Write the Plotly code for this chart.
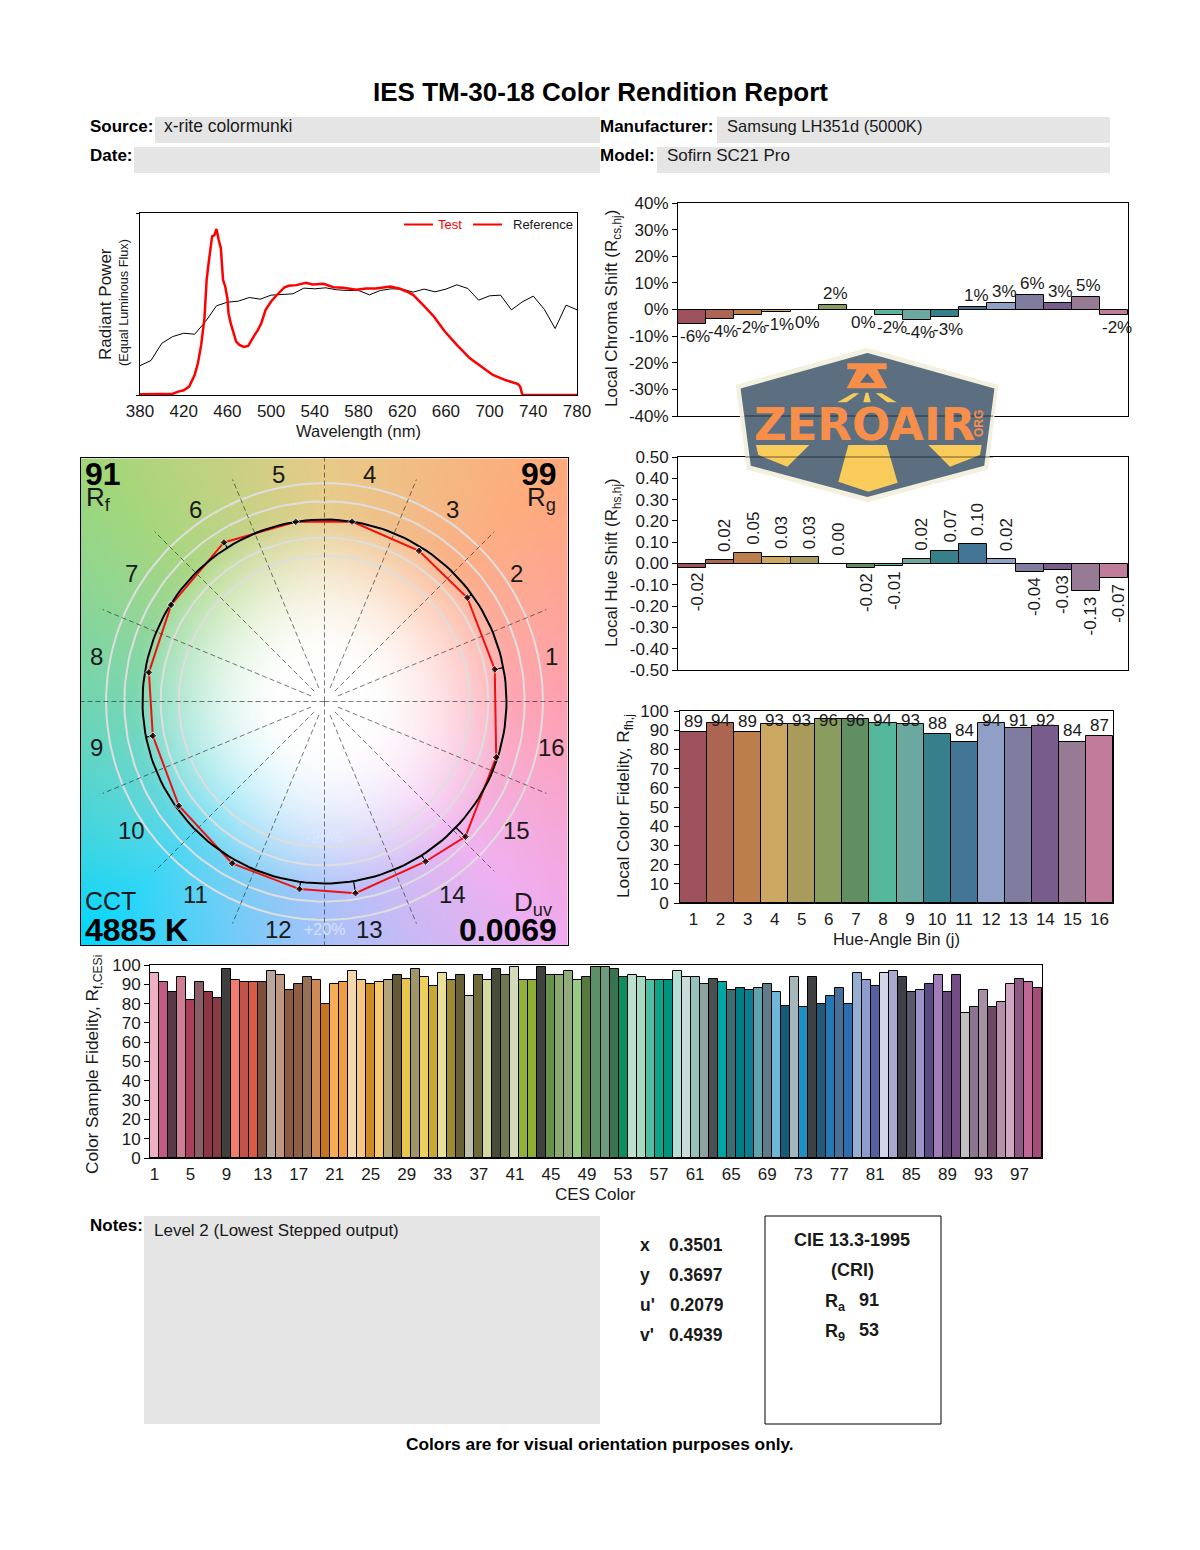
import numpy as np
import plotly.graph_objects as go

W, H = 1200, 1550
FONT = "Liberation Sans"
INK = "#1a1a1a"

# spectrum (height on the plot, 0-545 scale)
ref_wl = list(range(380, 781, 10))
ref_power = [88, 103, 155, 175, 185, 182, 220, 267, 278, 281, 292, 287, 299, 301, 303, 320, 318, 321, 315, 313, 313,
             300, 313, 318, 317, 308, 317, 309, 317, 330, 319, 284, 297, 299, 255, 279, 296, 257, 199, 269, 255]
test_wl = [380, 405, 410, 415, 420, 425, 430, 433, 436, 439, 441, 443, 446, 448, 450, 452, 454, 456, 458, 460, 461,
           463, 465, 468, 471, 475, 479, 482, 485, 488, 491, 495, 500, 504, 508, 512, 516, 523, 532, 538, 548, 557,
           566, 578, 587, 596, 609, 618, 624, 630, 639, 649, 659, 670, 682, 692, 703, 715, 726, 728, 730, 780]
test_power = [2, 2, 4, 10, 14, 25, 60, 95, 150, 230, 345, 400, 475, 478, 497, 465, 440, 345, 325, 290, 245,
              215, 190, 160, 150, 144, 147, 165, 180, 195, 215, 255, 280, 295, 310, 322, 327, 329, 336, 331, 333, 323,
              321, 315, 319, 319, 325, 318, 310, 300, 270, 235, 190, 150, 110, 85, 60, 44, 33, 25, 0, 0]

# bins
bins = list(range(1, 17))
bin_colors = ["#9D525B", "#AD6553", "#BC7E4B", "#CCA863", "#A99B5C", "#8A9C5E", "#618E63", "#55B79B",
              "#6BA89F", "#35808A", "#427596", "#8F9FC6", "#807C9F", "#785C8C", "#977A94", "#C27C9B"]
chroma_shift = [-5.6, -3.75, -2.0, -0.9, 0, 1.7, 0, -2.0, -3.8, -2.7, 0.8, 2.5, 5.5, 2.5, 4.8, -2.0]
chroma_text = ["-6%", "-4%", "-2%", "-1%", "0%", "2%", "0%", "-2%", "-4%", "-3%", "1%", "3%", "6%", "3%", "5%", "-2%"]
hue_shift = [-0.02, 0.015, 0.05, 0.03, 0.03, 0.0, -0.02, -0.01, 0.02, 0.06, 0.09, 0.02, -0.04, -0.03, -0.13, -0.07]
hue_text = ["-0.02", "0.02", "0.05", "0.03", "0.03", "0.00", "-0.02", "-0.01", "0.02", "0.07", "0.10", "0.02",
            "-0.04", "-0.03", "-0.13", "-0.07"]
bin_fidelity = [89, 94, 89, 93, 93, 96, 96, 94, 93, 88, 84, 94, 91, 92, 84, 87]

# color samples
ces_values = [96, 91, 86, 94, 82, 91, 86, 83, 98, 92, 91, 91, 91, 97, 95, 87, 90, 94, 92, 80, 90, 91, 97, 92, 90,
              91, 92, 95, 93, 98, 94, 89, 96, 92, 95, 84, 95, 92, 98, 95, 99, 92, 92, 99, 95, 95, 97, 92, 94, 99,
              99, 98, 94, 95, 94, 92, 92, 92, 97, 94, 94, 90, 93, 91, 87, 88, 87, 88, 90, 86, 79, 94, 78, 94, 80,
              84, 88, 80, 96, 92, 89, 96, 97, 94, 86, 87, 90, 95, 86, 95, 75, 78, 87, 78, 81, 90, 93, 91, 88]
ces_colors = ["#EEB0C5", "#C25B83", "#573A45", "#CF7D95", "#A93F5D", "#8B5D66", "#8D3645", "#883B44", "#3F3F3F",
              "#F47C6C", "#C25347", "#D85C45", "#7E4E3A", "#B9A79C", "#C09882", "#8E5A3F", "#8E5F43", "#977156",
              "#CF8A53", "#C6761F", "#F7AD58", "#F09C43", "#F3D8AE", "#F8C67E", "#CF8B24", "#F9C96A", "#B3A579",
              "#665A36", "#E8C64E", "#A09568", "#EDD05D", "#C9A934", "#E8DF9A", "#9B8A32", "#675F36", "#C0BFA7",
              "#706B36", "#D3DA9C", "#484C39", "#70794F", "#D5DAB9", "#93B039", "#8FAD32", "#3E413C", "#66934C",
              "#89AB6E", "#91AB7E", "#97CC85", "#55793F", "#5E9068", "#6E9A7D", "#387450", "#0A9060", "#BCDFD0",
              "#A8DAC2", "#52BFA4", "#0EA587", "#009480", "#B4DFD4", "#CADCD8", "#95C3BC", "#8CA3A0", "#4A4F50",
              "#00A5A5", "#3A6E72", "#007D84", "#0A7E90", "#5FA3AE", "#5F7C88", "#6FB7D8", "#145C78", "#A4B7BD",
              "#2090C4", "#3E4042", "#205A7C", "#2478B4", "#44709A", "#2A6EB0", "#94AFD2", "#8C9CCC", "#55609E",
              "#D2D6E8", "#A9A9D0", "#3F3F48", "#5A586C", "#9A92C9", "#5B4A82", "#A07DB8", "#654678", "#744C86",
              "#BFBFBF", "#8D7490", "#A890A4", "#6F4766", "#B88FAA", "#D0A7C2", "#905784", "#C06796", "#A64C78"]

# color vector graphic: polar position of the test vertex per bin (reference circle = 1)
vec_angle = [10.7, 36.0, 57.9, 81.3, 99.1, 122.3, 147.8, 170.6, 191.3, 215.6, 240.3, 262.4, 279.2, 302.3, 316.2, 342.0]
vec_radius = [0.952, 0.97, 0.977, 1.0, 1.0, 1.034, 0.996, 0.978, 0.962, 0.984, 1.024, 1.04, 1.067, 1.04, 1.073, 0.992]
ring_levels = [0.8, 0.9, 1.0, 1.1, 1.2]
spoke_angles = [i * 22.5 for i in range(16)]
bg_angle = [0, 45, 90, 135, 180, 225, 270, 315, 360]
bg_mid = [(255, 165, 180), (252, 175, 135), (230, 205, 140), (170, 215, 130), (120, 215, 180), (90, 215, 240),
          (170, 195, 250), (240, 180, 240), (255, 165, 180)]
bg_far = [(255, 150, 175), (255, 170, 120), (235, 200, 125), (160, 215, 120), (100, 210, 170), (0, 215, 255),
          (165, 190, 250), (240, 170, 240), (255, 150, 175)]


def xdom(a, b):
    return [a / W, b / W]


def ydom(top, bottom):
    return [1 - bottom / H, 1 - top / H]


def px(x, y):
    return x / W, 1 - y / H


annotations = []
shapes = []


def label(x, y, text, size=17, color=INK, bold=False, anchor="left", angle=0):
    # annotations sit about 2px inside their anchor
    if angle == 0 and anchor == "left":
        x -= 2
    elif angle == 0 and anchor == "right":
        x += 2
    fx, fy = px(x, y)
    annotations.append(dict(x=fx, y=fy, xref="paper", yref="paper", text=f"<b>{text}</b>" if bold else text,
                            showarrow=False, xanchor=anchor, yanchor="middle", textangle=angle,
                            font=dict(family=FONT, size=size, color=color)))


def box(x0, y0, x1, y1, fill="#E5E5E5", line=None):
    a, b = px(x0, y0)
    c, d = px(x1, y1)
    shapes.append(dict(type="rect", xref="paper", yref="paper", x0=a, y0=b, x1=c, y1=d, fillcolor=fill,
                       line=dict(color=line or "rgba(0,0,0,0)", width=1), layer="below"))


def logo_path(points):
    # points are in logo coords, 3 units per page pixel
    out = []
    for i, (x, y) in enumerate(points):
        fx, fy = px(730 + x / 3, 340 + y / 3)
        out.append(("M" if i == 0 else "L") + f"{fx:.5f},{fy:.5f}")
    return " ".join(out) + " Z"


def logo_shape(points, fill, line=None, width=0, opacity=1.0):
    shapes.append(dict(type="path", xref="paper", yref="paper", path=logo_path(points), fillcolor=fill, layer="above",
                       opacity=opacity, line=dict(color=line or fill, width=width)))


def frame(domx, domy, **kw):
    d = dict(domain=domx if domx else domy, showline=True, mirror=True, linecolor="black", linewidth=1,
             showgrid=False, zeroline=False, automargin=False, tickfont=dict(family=FONT, size=17, color=INK),
             ticklen=5, tickcolor="black")
    d.update(kw)
    return d


fig = go.Figure()

# ---- page fields
label(600, 92, "IES TM-30-18 Color Rendition Report", size=26, color="black", bold=True, anchor="center")
box(155, 117, 600, 143)
box(134, 147, 600, 173)
box(717, 117, 1110, 143)
box(657, 147, 1110, 173)
box(144, 1216, 600, 1424)
box(765, 1216, 941, 1424, fill="white", line="black")
label(90, 126, "Source:", color="black", bold=True)
label(90, 156, "Date:", color="black", bold=True)
label(600, 126, "Manufacturer:", color="black", bold=True)
label(600, 156, "Model:", color="black", bold=True)
label(164, 126, "x-rite colormunki", size=17.5)
label(727, 126, "Samsung LH351d (5000K)", size=16.5)
label(667, 156, "Sofirn SC21 Pro", size=17)
label(90, 1225, "Notes:", color="black", bold=True)
label(154, 1230, "Level 2 (Lowest Stepped output)", size=17)
for y, name, val, vx in [(1245, "x", "0.3501", 669), (1275, "y", "0.3697", 669),
                         (1305, "u'", "0.2079", 670), (1335, "v'", "0.4939", 669)]:
    label(640, y, name, size=17.5, bold=True)
    label(vx, y, val, size=17.5, bold=True)
label(852, 1240, "CIE 13.3-1995", size=18, bold=True, anchor="center")
label(852, 1270, "(CRI)", size=18, bold=True, anchor="center")
label(825, 1302, "R<sub>a</sub>", size=18, bold=True)
label(859, 1300, "91", size=18, bold=True)
label(825, 1332, "R<sub>9</sub>", size=18, bold=True)
label(859, 1330, "53", size=18, bold=True)
label(600, 1444, "Colors are for visual orientation purposes only.", size=17.3, color="black", bold=True, anchor="center")

# ---- spectrum
fig.add_trace(go.Scatter(x=ref_wl, y=ref_power, mode="lines", line=dict(color="black", width=1),
                         xaxis="x", yaxis="y", showlegend=False))
fig.add_trace(go.Scatter(x=test_wl, y=test_power, mode="lines", line=dict(color="#FF0000", width=2.5),
                         xaxis="x", yaxis="y", showlegend=False))
label(358, 431, "Wavelength (nm)", size=16.5, anchor="center")
label(105, 304, "Radiant Power", anchor="center", angle=-90)
label(124, 303, "(Equal Luminous Flux)", size=12.7, anchor="center", angle=-90)
for x0, x1 in [(404, 433), (473, 502)]:
    a, b = px(x0, 224.5)
    c, _ = px(x1, 224.5)
    shapes.append(dict(type="line", xref="paper", yref="paper", x0=a, x1=c, y0=b, y1=b, layer="above",
                       line=dict(color="#FF0000", width=2)))
label(438, 224.5, "Test", size=13, color="#FF0000")
label(513, 224.5, "Reference", size=13, color=INK)

# ---- chroma shift
fig.add_trace(go.Bar(x=bins, y=chroma_shift, width=1, marker=dict(color=bin_colors, line=dict(color="black", width=1)),
                     xaxis="x2", yaxis="y2", showlegend=False))
for b, v, t in zip(bins, chroma_shift, chroma_text):
    up = v > 0
    annotations.append(dict(x=b, y=v, xref="x2", yref="y2", text=t, showarrow=False, xshift=3,
                            yanchor="bottom" if up else "top", yshift=0 if up else -1,
                            font=dict(family=FONT, size=17, color=INK)))
label(613, 309, "Local Chroma Shift (R<sub>cs,hj</sub>)", anchor="center", angle=-90)

# ---- hue shift
fig.add_trace(go.Bar(x=bins, y=hue_shift, width=1, marker=dict(color=bin_colors, line=dict(color="black", width=1)),
                     xaxis="x3", yaxis="y3", showlegend=False))
for b, v, t in zip(bins, hue_shift, hue_text):
    up = not t.startswith("-")
    annotations.append(dict(x=b, y=v, xref="x3", yref="y3", text=t, showarrow=False, textangle=-90, xshift=5,
                            yanchor="bottom" if up else "top", yshift=6 if up else -3,
                            font=dict(family=FONT, size=17, color=INK)))
label(613, 563, "Local Hue Shift (R<sub>hs,hj</sub>)", anchor="center", angle=-90)

# ---- local fidelity
fig.add_trace(go.Bar(x=bins, y=bin_fidelity, width=1, marker=dict(color=bin_colors, line=dict(color="black", width=1)),
                     xaxis="x4", yaxis="y4", showlegend=False))
for b, v in zip(bins, bin_fidelity):
    # the labels stop rising near the top of the frame, so high ones sit on their bars
    annotations.append(dict(x=b, y=min(v + 5.7, 95.3), xref="x4", yref="y4", text=str(v), showarrow=False,
                            yanchor="middle", font=dict(family=FONT, size=17, color=INK)))
label(624, 806, "Local Color Fidelity, R<sub>fh,j</sub>", size=17.3, anchor="center", angle=-90)
label(896, 939, "Hue-Angle Bin (j)", size=16.7, anchor="center")

# ---- color sample fidelity
ces_x = list(range(1, 100))
fig.add_trace(go.Bar(x=ces_x, y=ces_values, width=1, marker=dict(color=ces_colors, line=dict(color="black", width=1)),
                     xaxis="x6", yaxis="y6", showlegend=False))
label(93, 1065, "Color Sample Fidelity, R<sub>f,CESi</sub>", size=17.3, anchor="center", angle=-90)
label(595, 1194, "CES Color", anchor="center")

# ---- color vector graphic
UNIT_PX = 182.0
half = 243.5 / UNIT_PX
n = 487
axis = np.linspace(-half, half, n)
xx, yy = np.meshgrid(axis, axis)
rr = np.hypot(xx, yy) * UNIT_PX
aa = np.degrees(np.arctan2(yy, xx)) % 360
bg = np.zeros((n, n, 3))
for ch in range(3):
    mid = np.interp(aa, bg_angle, [c[ch] for c in bg_mid])
    far = np.interp(aa, bg_angle, [c[ch] for c in bg_far])
    t_in = np.clip((rr - 40) / 150, 0, 1) ** 1.6
    t_out = np.clip((rr - 190) / 150, 0, 1)
    edge = mid + (far - mid) * t_out
    bg[:, :, ch] = 255 + (edge - 255) * t_in
fig.add_trace(go.Image(z=bg.astype(np.uint8).tolist(), x0=-half, y0=-half, dx=2 * half / n, dy=2 * half / n,
                       xaxis="x5", yaxis="y5", hoverinfo="skip"))

theta = np.radians(np.arange(0, 361, 2))
for level in ring_levels:
    fig.add_trace(go.Scatter(x=level * np.cos(theta), y=level * np.sin(theta), mode="lines",
                             line=dict(color="#DEDEDE", width=2), xaxis="x5", yaxis="y5", showlegend=False))
for ang in spoke_angles:
    straight = ang % 90 == 0
    r0, r1 = (0, 1.4) if straight else (0.08, 1.32)
    c, s = np.cos(np.radians(ang)), np.sin(np.radians(ang))
    fig.add_trace(go.Scatter(x=[r0 * c, r1 * c], y=[r0 * s, r1 * s], mode="lines",
                             line=dict(color="rgba(30,30,30,0.75)", width=0.8, dash="5px,3px"),
                             xaxis="x5", yaxis="y5", showlegend=False))
test_x = [r * np.cos(np.radians(a)) for r, a in zip(vec_radius, vec_angle)]
test_y = [r * np.sin(np.radians(a)) for r, a in zip(vec_radius, vec_angle)]
fig.add_trace(go.Scatter(x=test_x + test_x[:1], y=test_y + test_y[:1], mode="lines",
                         line=dict(color="#F01010", width=2), xaxis="x5", yaxis="y5", showlegend=False))
fig.add_trace(go.Scatter(x=np.cos(theta), y=np.sin(theta), mode="lines", line=dict(color="black", width=2),
                         xaxis="x5", yaxis="y5", showlegend=False))
for a, tx, ty in zip(vec_angle, test_x, test_y):
    c, s = np.cos(np.radians(a)), np.sin(np.radians(a))
    fig.add_trace(go.Scatter(x=[c, tx], y=[s, ty], mode="lines+markers", line=dict(color="black", width=1.2),
                             marker=dict(symbol="diamond", size=[0, 6], color="black"),
                             xaxis="x5", yaxis="y5", showlegend=False))

cx, cy = 324, 701
for b, a in zip(bins, vec_angle):
    mid_a = np.radians((b - 0.5) * 22.5)
    label(cx + 232 * np.cos(mid_a), cy - 232 * np.sin(mid_a) + 1, str(b), size=24, anchor="center")
label(85, 474, "91", size=32, color="black", bold=True)
label(86, 498, "R<sub>f</sub>", size=26)
label(557, 474, "99", size=32, color="black", bold=True, anchor="right")
label(527, 498, "R<sub>g</sub>", size=26)
label(85, 901, "CCT", size=25)
label(85, 930, "4885 K", size=32, color="black", bold=True)
label(514, 903, "D<sub>uv</sub>", size=26)
label(557, 930, "0.0069", size=32, color="black", bold=True, anchor="right")
label(324, 929, "+20%", size=16, color="rgba(255,255,255,0.55)", anchor="center")
label(324, 837, "-20%", size=16, color="rgba(255,255,255,0.22)", anchor="center")

# ---- logo, drawn over the charts
logo_shape([(412, 28), (800, 138), (770, 385), (412, 482), (55, 385), (22, 138)], "#F3EFDD", "#F3EFDD", 3, 0.93)
logo_shape([(412, 42), (790, 148), (760, 375), (412, 468), (65, 375), (35, 148)], "#54697B", "#54697B", 2, 0.95)
logo_shape([(352, 70), (470, 70), (470, 88), (442, 88), (472, 145), (350, 145), (380, 88), (352, 88)], "#F78F4B")
logo_shape([(412, 100), (390, 128), (435, 128)], "#54697B")
logo_shape([(322, 187), (370, 160), (388, 160), (350, 187)], "#F8CB5B")
logo_shape([(400, 187), (407, 158), (415, 158), (422, 187)], "#F8CB5B")
logo_shape([(437, 160), (455, 160), (500, 187), (472, 187)], "#F8CB5B")
logo_shape([(78, 315), (238, 315), (172, 380), (85, 345)], "#F8CB5B")
logo_shape([(355, 315), (470, 315), (503, 428), (415, 455), (325, 425)], "#F8CB5B")
logo_shape([(595, 315), (755, 315), (750, 345), (660, 380)], "#F8CB5B")
# the frames of the two charts show through the logo
for y in (416, 457):
    a, b = px(745, y)
    c, _ = px(993, y)
    shapes.append(dict(type="line", xref="paper", yref="paper", x0=a, x1=c, y0=b, y1=b, layer="above", opacity=0.55,
                       line=dict(color="black", width=1)))
label(864, 424, "<b>ZEROAIR</b>", size=45, color="#F78F4B", anchor="center")
annotations[-1]["font"]["family"] = "DejaVu Sans"
label(979, 424, "ORG", size=12, color="#F78F4B", bold=True, anchor="center", angle=-90)

# ---- axes
chroma_ticks = list(range(-40, 41, 10))
hue_ticks = [round(-0.5 + 0.1 * i, 1) for i in range(11)]
fig.update_layout(
    width=W, height=H, margin=dict(l=0, r=0, t=0, b=0), paper_bgcolor="white", plot_bgcolor="white",
    showlegend=False, annotations=annotations, shapes=shapes, bargap=0,
    xaxis=frame(xdom(140, 577), None, range=[380, 780], tickvals=list(range(380, 781, 40)), ticks="outside",
                ticklen=1, tickcolor="rgba(0,0,0,0)", anchor="y"),
    yaxis=frame(None, ydom(213, 395), range=[0, 545], tickvals=[0, 545], showticklabels=False, ticks="outside",
                ticklen=3, anchor="x"),
    xaxis2=frame(xdom(678, 1128), None, range=[0.5, 16.5], showticklabels=False, ticks="", anchor="y2"),
    yaxis2=frame(None, ydom(203, 416), range=[-40, 40], tickvals=chroma_ticks,
                 ticktext=[f"{v}%" for v in chroma_ticks], ticks="outside", anchor="x2"),
    xaxis3=frame(xdom(678, 1128), None, range=[0.5, 16.5], showticklabels=False, ticks="", anchor="y3"),
    yaxis3=frame(None, ydom(457, 670), range=[-0.5, 0.5], tickvals=hue_ticks,
                 ticktext=[f"{v:.2f}" for v in hue_ticks], ticks="outside", anchor="x3"),
    xaxis4=frame(xdom(680, 1113), None, range=[0.5, 16.5], tickvals=bins, ticks="outside", ticklen=1,
                 tickcolor="rgba(0,0,0,0)", anchor="y4"),
    yaxis4=frame(None, ydom(711, 903), range=[0, 100], tickvals=list(range(0, 101, 10)), ticks="outside",
                 ticklabelstandoff=2, anchor="x4"),
    xaxis5=frame(xdom(81, 568), None, range=[-half, half], showticklabels=False, ticks="", anchor="y5"),
    yaxis5=frame(None, ydom(458, 945), range=[-half, half], showticklabels=False, ticks="", anchor="x5"),
    xaxis6=frame(xdom(150, 1042), None, range=[0.5, 99.5], tickvals=list(range(1, 100, 4)), ticks="outside",
                 ticklen=1, tickcolor="rgba(0,0,0,0)", anchor="y6"),
    yaxis6=frame(None, ydom(965, 1158), range=[0, 100], tickvals=list(range(0, 101, 10)), ticks="outside", anchor="x6"),
)

fig.write_html("out.html", config={"displayModeBar": False}, post_script="document.body.style.margin='0';")
